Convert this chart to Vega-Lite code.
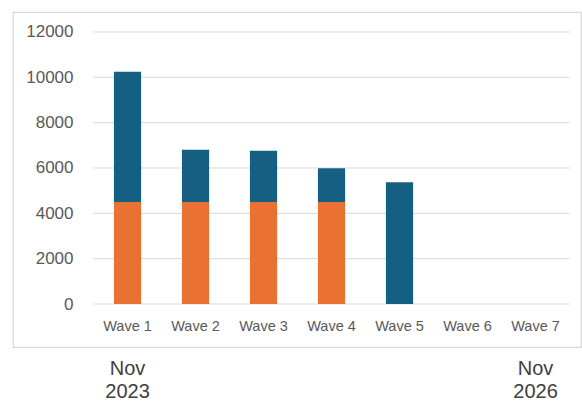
{
  "$schema": "https://vega.github.io/schema/vega-lite/v6.json",
  "width": 568,
  "height": 335,
  "autosize": "none",
  "padding": {"left": 13, "top": 12, "right": 1, "bottom": 56},
  "background": "white",
  "config": {
    "view": {"stroke": "#d9d9d9", "strokeWidth": 1.2},
    "font": "Liberation Sans"
  },
  "datasets": {
    "bars": [
      {"wave": "Wave 1", "series": "Series 1", "value": 4500},
      {"wave": "Wave 1", "series": "Series 2", "value": 5750},
      {"wave": "Wave 2", "series": "Series 1", "value": 4500},
      {"wave": "Wave 2", "series": "Series 2", "value": 2300},
      {"wave": "Wave 3", "series": "Series 1", "value": 4500},
      {"wave": "Wave 3", "series": "Series 2", "value": 2260},
      {"wave": "Wave 4", "series": "Series 1", "value": 4500},
      {"wave": "Wave 4", "series": "Series 2", "value": 1490},
      {"wave": "Wave 5", "series": "Series 2", "value": 5370}
    ],
    "grid": [
      {"v": 0}, {"v": 2000}, {"v": 4000}, {"v": 6000}, {"v": 8000}, {"v": 10000}, {"v": 12000}
    ]
  },
  "resolve": {"axis": {"x": "independent"}},
  "layer": [
    {
      "data": {"name": "grid"},
      "mark": {"type": "rule", "stroke": "#d9d9d9", "strokeWidth": 1},
      "encoding": {
        "x": {
          "datum": "Wave 1",
          "type": "nominal",
          "bandPosition": -0.75,
          "scale": {
            "type": "band",
            "domain": ["Wave 1", "Wave 2", "Wave 3", "Wave 4", "Wave 5", "Wave 6", "Wave 7"],
            "paddingInner": 0.6,
            "paddingOuter": 0.9765,
            "align": 0.76
          },
          "axis": {
            "orient": "bottom",
            "offset": 0,
            "title": null,
            "domain": false,
            "ticks": false,
            "grid": false,
            "labelExpr": "datum.label == 'Wave 1' ? ['Nov', '2023'] : datum.label == 'Wave 7' ? ['Nov', '2026'] : ''",
            "labelAngle": 0,
            "labelAlign": "center",
            "labelBaseline": "top",
            "labelFontSize": 20,
            "labelLineHeight": 23,
            "labelPadding": 11,
            "labelColor": "#404040",
            "labelOverlap": false,
            "labelFlush": false,
            "labelBound": false
          }
        },
        "x2": {"datum": "Wave 7", "bandPosition": 1.75},
        "y": {"field": "v", "type": "quantitative"}
      }
    },
    {
      "data": {"name": "bars"},
      "mark": {"type": "bar"},
      "encoding": {
        "x": {
          "field": "wave",
          "type": "nominal",
          "axis": {
            "orient": "bottom",
            "offset": -43,
            "title": null,
            "domain": false,
            "ticks": false,
            "grid": false,
            "labelAngle": 0,
            "labelFontSize": 14.5,
            "labelColor": "#595959",
            "labelPadding": 15,
            "labelBaseline": "top",
            "labelOverlap": false
          }
        },
        "y": {
          "field": "value",
          "type": "quantitative",
          "stack": "zero",
          "scale": {"domain": [-1897, 12882], "nice": false, "zero": false},
          "axis": {
            "orient": "left",
            "offset": -80,
            "values": [0, 2000, 4000, 6000, 8000, 10000, 12000],
            "title": null,
            "domain": false,
            "ticks": false,
            "grid": false,
            "format": "d",
            "labelFontSize": 17,
            "labelColor": "#595959",
            "labelPadding": 20
          }
        },
        "color": {
          "field": "series",
          "type": "nominal",
          "scale": {"domain": ["Series 1", "Series 2"], "range": ["#E97132", "#156082"]},
          "legend": null
        },
        "order": {"field": "series", "sort": "ascending"}
      }
    }
  ]
}
